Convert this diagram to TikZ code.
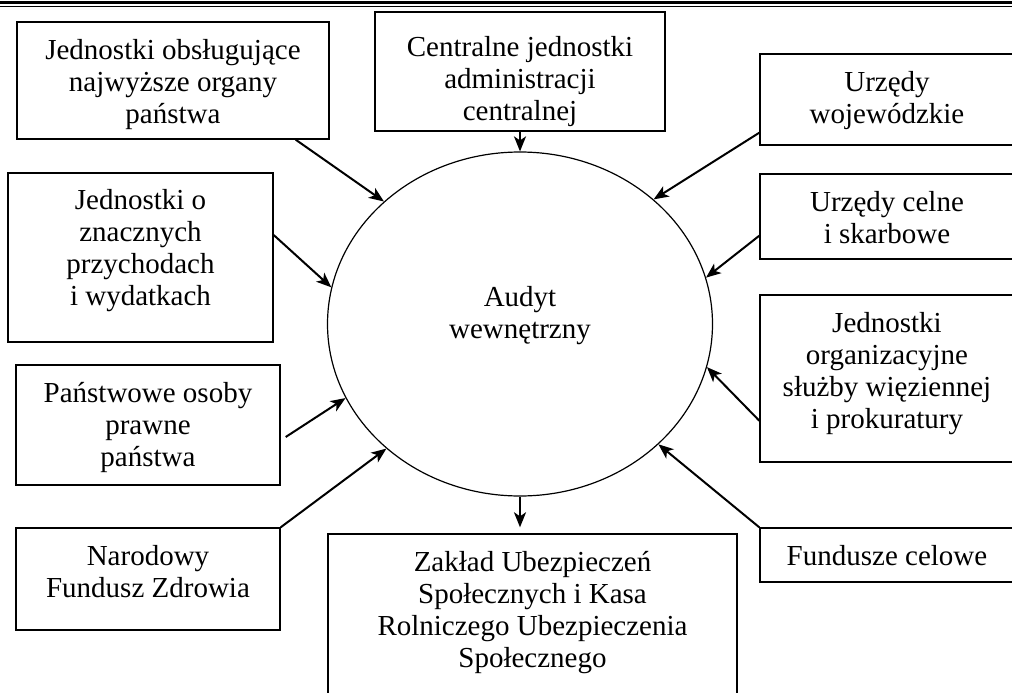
\documentclass[tikz,border=0pt]{standalone}
\usepackage{fontspec}
\setmainfont{Liberation Serif}
\usepackage{tikz}
\usetikzlibrary{arrows.meta,shapes.geometric}
\tikzset{
    unit/.style={draw, line width=1.4pt, inner sep=0pt},
    hub/.style={draw, ellipse, line width=1.2pt, inner sep=0pt, minimum width=385pt, minimum height=344pt},
    feed/.style={line width=2pt, -{Stealth[length=15pt, width=12pt, inset=4pt]}},
}
\newcommand{\celltext}[4][15pt]{\parbox[c][#2][t]{#3}{\fontsize{29}{32}\selectfont\centering\vspace*{#1}\strut #4\par}}

\begin{document}
\begin{tikzpicture}[x=1pt, y=-1pt]
\useasboundingbox (0,0) rectangle (1012,693);
\draw[line width=3.5pt] (0,2.75) -- (1012,2.75);
\draw[line width=0.8pt] (0,6.3) -- (1012,6.3);
\node[hub] (audit) at (520,324) {};
\node[font=\fontsize{29}{32}\selectfont, align=center] (audtxt) at ([yshift=8pt]audit.center) {Audyt\\wewnętrzny};
\node[unit] (b1) at (173,80.5) {\celltext{117pt}{312pt}{Jednostki obsługujące\\najwyższe organy\\państwa}};
\node[unit] (b2) at (520,71.5) {\celltext[22.6pt]{119pt}{290pt}{Centralne jednostki\\administracji\\centralnej}};
\node[unit] (b3) at (887,99.5) {\celltext{91pt}{254pt}{Urzędy\\wojewódzkie}};
\node[unit] (b4) at (140.5,257.5) {\celltext[13.6pt]{169pt}{265pt}{Jednostki o\\znacznych\\przychodach\\i wydatkach}};
\node[unit] (b5) at (148,425) {\celltext[14.6pt]{120pt}{264pt}{Państwowe osoby\\prawne\\państwa}};
\node[unit] (b6) at (148,579) {\celltext{102pt}{264pt}{Narodowy\\Fundusz Zdrowia}};
\node[unit] (b7) at (532.5,627) {\celltext{186pt}{409pt}{Zakład Ubezpieczeń\\Społecznych i Kasa\\Rolniczego Ubezpieczenia\\Społecznego}};
\node[unit] (b8) at (887,216.5) {\celltext{85pt}{254pt}{Urzędy celne\\i skarbowe}};
\node[unit] (b9) at (887,378.5) {\celltext[14.6pt]{167pt}{254pt}{Jednostki\\organizacyjne\\służby więziennej\\i prokuratury}};
\node[unit] (b10) at (887,555) {\celltext[14.6pt]{54pt}{254pt}{Fundusze celowe}};
\draw[feed] ([xshift=-34pt]b1.south east) -- (audit.138.4);
\draw[feed] (b2.south -| audit.north) -- (audit.north);
\draw[feed] ([yshift=13pt]b3.south west) -- (audit.43.2);
\draw[feed] ([yshift=24pt]b8.south west) -- (audit.14.1);
\draw[feed] ([yshift=42pt]b9.south west) -- (audit.-13.3);
\draw[feed] (b10.north west) -- (audit.-41.4);
\draw[feed, shorten >=6pt] (audit.south) -- (audit.south |- b7.north);
\draw[feed] (b6.north east) -- (audit.223.1);
\draw[feed] ([xshift=5pt,yshift=-12pt]b5.east) -- (audit.203.5);
\draw[feed] ([yshift=22.5pt]b4.east) -- (audit.169.6);
\end{tikzpicture}
\end{document}
